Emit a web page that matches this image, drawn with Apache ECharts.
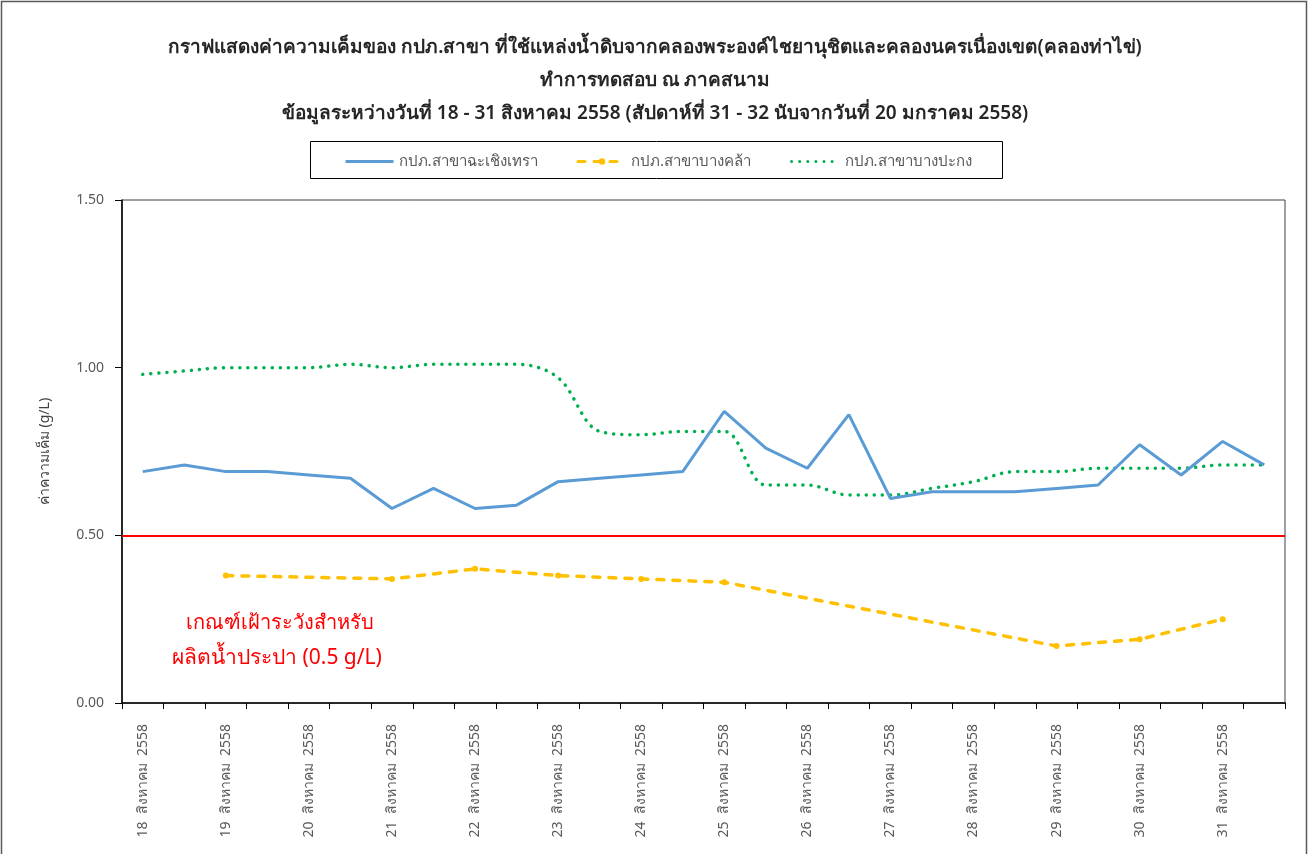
<!DOCTYPE html>
<html>
<head>
<meta charset="utf-8">
<script src="https://cdn.jsdelivr.net/npm/echarts@6/dist/echarts.min.js"></script>
<style>
    html, body { margin: 0; padding: 0; background: #fff; }
    #chart { width: 1310px; height: 854px; }
</style>
</head>
<body>
<div id="chart"></div>
<script>
    // ข้อมูลแต่ละวัน วันละ 2 ค่า (18 - 31 สิงหาคม 2558)
    const days = [18, 19, 20, 21, 22, 23, 24, 25, 26, 27, 28, 29, 30, 31];
    const categories = [];
    days.forEach(d => {
        categories.push(d + ' สิงหาคม 2558');
        categories.push(d + ' สิงหาคม 2558 ');
    });

    const chachoengsao = [0.69, 0.71, 0.69, 0.69, 0.68, 0.67, 0.58, 0.64, 0.58, 0.59, 0.66, 0.67, 0.68, 0.69,
                          0.87, 0.76, 0.70, 0.86, 0.61, 0.63, 0.63, 0.63, 0.64, 0.65, 0.77, 0.68, 0.78, 0.71];
    const bangkhla = [null, null, 0.38, null, null, null, 0.37, null, 0.40, null, 0.38, null, 0.37, null,
                      0.36, null, null, null, null, null, null, null, 0.17, null, 0.19, null, 0.25, null];
    const bangpakong = [0.98, 0.99, 1.00, 1.00, 1.00, 1.01, 1.00, 1.01, 1.01, 1.01, 0.97, 0.81, 0.80, 0.81,
                        0.81, 0.65, 0.65, 0.62, 0.62, 0.64, 0.66, 0.69, 0.69, 0.70, 0.70, 0.70, 0.71, 0.71];
    const seriesNames = ['กปภ.สาขาฉะเชิงเทรา', 'กปภ.สาขาบางคล้า', 'กปภ.สาขาบางปะกง'];
    const yTicks = [0, 0.5, 1.0, 1.5];
    const threshold = 0.5;

    const font = 'Tahoma, "Noto Sans", sans-serif';
    let chart = echarts.init(document.getElementById('chart'));
    let option = {
        backgroundColor: '#fff',
        textStyle: { fontFamily: font },
        title: {
            text: 'กราฟแสดงค่าความเค็มของ กปภ.สาขา ที่ใช้แหล่งน้ำดิบจากคลองพระองค์ไชยานุชิตและคลองนครเนื่องเขต(คลองท่าไข่)\nทำการทดสอบ ณ ภาคสนาม\nข้อมูลระหว่างวันที่ 18 - 31 สิงหาคม 2558 (สัปดาห์ที่ 31 - 32 นับจากวันที่ 20 มกราคม 2558)',
            left: 'center',
            top: 26,
            textStyle: {
                fontFamily: font,
                fontSize: 19,
                fontWeight: 600,
                color: '#262626',
                lineHeight: 33
            }
        },
        legend: {
            data: [
                { name: seriesNames[0], itemStyle: { opacity: 0 }, lineStyle: { width: 3 } },
                { name: seriesNames[1], lineStyle: { width: 3 } },
                { name: seriesNames[2], itemStyle: { opacity: 0 }, lineStyle: { width: 3 } }
            ],
            left: 344,
            top: 154,
            padding: 0,
            itemGap: 39,
            itemWidth: 48,
            itemHeight: 8,
            textStyle: { fontFamily: font, fontSize: 15, color: '#595959' }
        },
        grid: {
            left: 122,
            top: 200,
            right: 25,
            bottom: 151,
            show: true,
            borderColor: '#404040',
            borderWidth: 1
        },
        xAxis: {
            type: 'category',
            data: categories,
            boundaryGap: true,
            axisLine: { lineStyle: { color: '#000', width: 1.5 } },
            axisTick: { show: true, interval: 0, length: 6, lineStyle: { color: '#000' } },
            axisLabel: {
                interval: 1,
                rotate: 90,
                margin: 21,
                fontSize: 14,
                color: '#595959',
                formatter: v => v.trim().replace(/ /g, '  ')
            },
            splitLine: { show: false }
        },
        yAxis: {
            type: 'value',
            min: yTicks[0],
            max: yTicks[yTicks.length - 1],
            interval: 0.5,
            name: 'ค่าความเค็ม (g/L)',
            nameLocation: 'middle',
            nameGap: 70,
            nameTextStyle: { fontFamily: font, fontSize: 14, color: '#404040' },
            axisLine: { show: true, lineStyle: { color: '#000', width: 1.5 } },
            axisTick: { show: true, length: 7, lineStyle: { color: '#000' } },
            axisLabel: {
                fontSize: 14,
                color: '#595959',
                margin: 18,
                formatter: v => v.toFixed(2)
            },
            splitLine: { show: false }
        },
        graphic: [
            {
                type: 'rect',
                silent: true,
                shape: { x: 1.5, y: 1.5, width: 1305, height: 900 },
                style: { fill: 'none', stroke: '#595959', lineWidth: 1.5 }
            },
            {
                type: 'rect',
                silent: true,
                shape: { x: 310.5, y: 141.5, width: 692, height: 37 },
                style: { fill: 'none', stroke: '#000', lineWidth: 1 }
            },
            {
                type: 'text',
                left: 186,
                top: 613,
                style: {
                    text: 'เกณฑ์เฝ้าระวังสำหรับ',
                    fill: '#ff0000',
                    font: '20px ' + font
                }
            },
            {
                type: 'text',
                left: 172,
                top: 648,
                style: {
                    text: 'ผลิตน้ำประปา (0.5 g/L)',
                    fill: '#ff0000',
                    font: '21px ' + font
                }
            }
        ],
        series: [
            {
                name: seriesNames[0],
                type: 'line',
                data: chachoengsao,
                showSymbol: false,
                symbol: 'none',
                color: '#5B9BD5',
                lineStyle: { color: '#5B9BD5', width: 3 },
                markLine: {
                    silent: true,
                    symbol: 'none',
                    label: { show: false },
                    lineStyle: { color: '#ff0000', width: 2, type: 'solid' },
                    data: [{ yAxis: threshold }]
                },
                z: 3
            },
            {
                name: seriesNames[1],
                type: 'line',
                data: bangkhla,
                connectNulls: true,
                symbol: 'circle',
                symbolSize: 6,
                color: '#FFC000',
                itemStyle: { color: '#FFC000' },
                lineStyle: { color: '#FFC000', width: 3.5, type: [7, 9], cap: 'round' },
                z: 2
            },
            {
                name: seriesNames[2],
                type: 'line',
                data: bangpakong,
                smooth: 0.35,
                symbol: 'none',
                showSymbol: false,
                color: '#00B050',
                lineStyle: { color: '#00B050', width: 3.5, type: [0.1, 8], cap: 'round' },
                z: 2
            }
        ]
    };
    chart.setOption(option);
</script>
</body>
</html>
